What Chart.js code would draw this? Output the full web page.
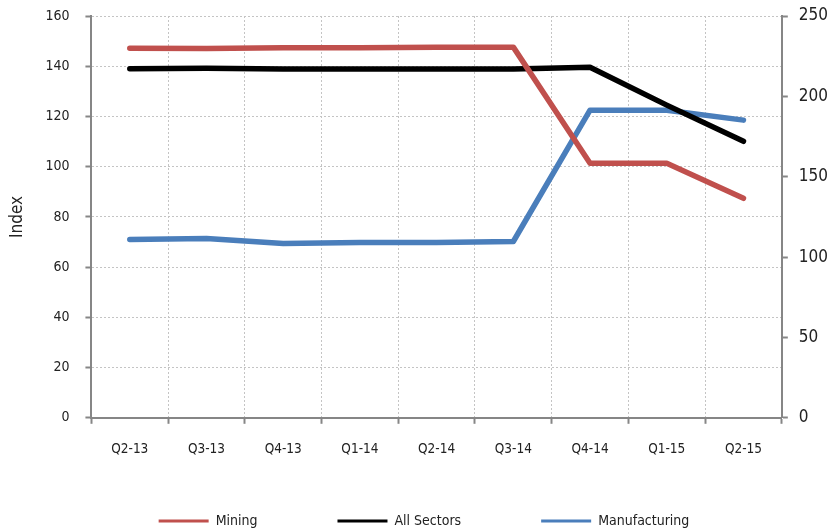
<!DOCTYPE html>
<html lang="en">
<head>
  <meta charset="UTF-8">
  <title>Index by sector</title>
  <script src="https://cdn.jsdelivr.net/npm/chart.js"></script>
  <style>
    html, body { margin: 0; padding: 0; background: #fff; }
    #wrap { width: 836px; height: 531px; }
  </style>
</head>
<body>
  <div id="wrap"><canvas id="chartCanvas" width="836" height="531"></canvas></div>

  <script>
    const quarters = ['Q2-13', 'Q3-13', 'Q4-13', 'Q1-14', 'Q2-14', 'Q3-14', 'Q4-14', 'Q1-15', 'Q2-15'];
    // left axis (Index)
    const mining = [147.2, 147.1, 147.4, 147.4, 147.6, 147.6, 101.4, 101.4, 87.4];
    const allSectors = [139.0, 139.2, 138.9, 138.9, 138.9, 138.9, 139.6, 124.5, 110.1];
    // right axis
    const manufacturing = [111.0, 111.6, 108.5, 109.1, 109.1, 109.7, 191.4, 191.4, 185.2];
    const leftTicks = [0, 20, 40, 60, 80, 100, 120, 140, 160];
    const rightTicks = [0, 50, 100, 150, 200, 250];

    const FONT = '"DejaVu Sans Condensed", "DejaVu Sans", sans-serif';
    const axisGrey = '#868686';
    const gridGrey = '#c4c4c4';

    // simple legend drawn under the plot, line sample + label
    const bottomLegend = {
      id: 'bottomLegend',
      afterDraw(chart) {
        const ctx = chart.ctx;
        const items = chart.data.datasets;
        const sample = 50, gapText = 7, gapItem = 80, y = 521;
        ctx.save();
        ctx.font = '14px ' + FONT;
        const widths = items.map(d => sample + gapText + ctx.measureText(d.label).width);
        const total = widths.reduce((a, b) => a + b, 0) + gapItem * (items.length - 1);
        let x = (chart.width - total) / 2 + 6;
        items.forEach((d, i) => {
          ctx.strokeStyle = d.borderColor;
          ctx.lineWidth = 3;
          ctx.beginPath();
          ctx.moveTo(x, y);
          ctx.lineTo(x + sample, y);
          ctx.stroke();
          ctx.fillStyle = '#222';
          ctx.textBaseline = 'middle';
          ctx.fillText(d.label, x + sample + gapText, y);
          x += widths[i] + gapItem;
        });
        ctx.restore();
      }
    };

    // keep the vertical axes from reserving extra room above the plot
    const noVerticalPad = axis => { axis.paddingTop = 0; axis.paddingBottom = 0; };

    const ctx = document.getElementById('chartCanvas').getContext('2d');
    new Chart(ctx, {
      type: 'line',
      data: {
        labels: quarters,
        datasets: [
          { label: 'Mining', data: mining, borderColor: '#c0504d', yAxisID: 'y' },
          { label: 'All Sectors', data: allSectors, borderColor: '#000000', yAxisID: 'y' },
          { label: 'Manufacturing', data: manufacturing, borderColor: '#4a7ebb', yAxisID: 'y1' }
        ]
      },
      options: {
        responsive: false,
        animation: false,
        layout: { padding: { left: 7, right: -3, top: 16, bottom: 55 } },
        elements: {
          line: { borderWidth: 5.5, tension: 0, borderCapStyle: 'round', borderJoinStyle: 'round', fill: false },
          point: { radius: 0 }
        },
        plugins: {
          legend: { display: false },
          tooltip: { enabled: false }
        },
        scales: {
          x: {
            offset: true,
            grid: {
              offset: true,
              color: gridGrey,
              lineWidth: 1,
              tickLength: 6,
              tickColor: axisGrey,
              tickWidth: 2,
              tickBorderDash: []
            },
            border: { color: axisGrey, width: 2, dash: [2, 2] },
            ticks: { color: '#222', font: { family: FONT, size: 13.5 }, padding: 18, maxRotation: 0 }
          },
          y: {
            position: 'left',
            min: 0,
            max: 160,
            afterBuildTicks: axis => { axis.ticks = leftTicks.map(v => ({ value: v })); },
            afterFit: noVerticalPad,
            grid: {
              color: gridGrey,
              lineWidth: 1,
              tickLength: 6,
              tickColor: axisGrey,
              tickWidth: 2,
              tickBorderDash: []
            },
            border: { color: axisGrey, width: 2, dash: [2, 2] },
            ticks: { color: '#222', font: { family: FONT, size: 14 }, padding: 16 },
            title: { display: true, text: 'Index', color: '#222', font: { family: FONT, size: 17 }, padding: { top: 0, bottom: 2 } }
          },
          y1: {
            position: 'right',
            min: 0,
            max: 250,
            afterBuildTicks: axis => { axis.ticks = rightTicks.map(v => ({ value: v })); },
            afterFit: noVerticalPad,
            grid: {
              drawOnChartArea: false,
              tickLength: 6,
              tickColor: axisGrey,
              tickWidth: 2
            },
            border: { color: axisGrey, width: 2 },
            ticks: { color: '#222', font: { family: FONT, size: 17 }, padding: 11 }
          }
        }
      },
      plugins: [bottomLegend]
    });
  </script>
</body>
</html>
